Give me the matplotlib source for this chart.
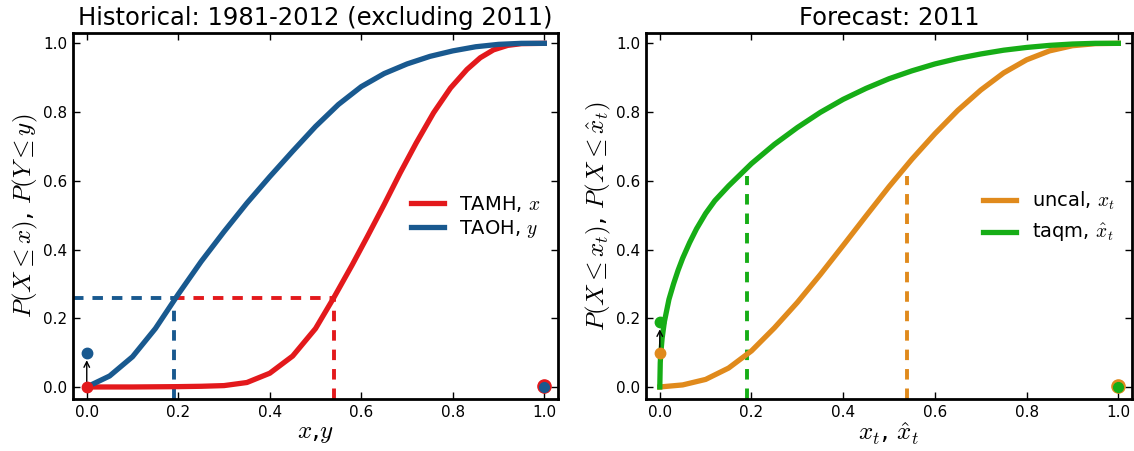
import matplotlib.pyplot as plt

plt.rcParams['mathtext.fontset'] = 'cm'
plt.rcParams['font.family'] = 'DejaVu Sans'

# values
X_GRID = [0.0, 0.05, 0.10, 0.15, 0.20, 0.25, 0.30, 0.35, 0.40, 0.45, 0.50,
          0.55, 0.60, 0.65, 0.70, 0.75, 0.80, 0.85, 0.90, 0.95, 1.0]
TAOH = [0.0, 0.032, 0.088, 0.17, 0.27, 0.365, 0.452, 0.535, 0.612, 0.686, 0.758,
        0.822, 0.874, 0.912, 0.94, 0.962, 0.978, 0.99, 0.997, 1.0, 1.0]
UNCAL = [0.0, 0.006, 0.022, 0.055, 0.105, 0.172, 0.246, 0.327, 0.412, 0.498, 0.583,
         0.663, 0.737, 0.805, 0.864, 0.914, 0.952, 0.978, 0.993, 0.999, 1.0]

X_TAMH = [0.0, 0.10, 0.20, 0.25, 0.30, 0.35, 0.40, 0.45, 0.50, 0.54, 0.58, 0.613,
          0.65, 0.685, 0.72, 0.758, 0.795, 0.831, 0.86, 0.889, 0.92, 0.95, 1.0]
TAMH = [0.0, 0.0, 0.001, 0.002, 0.004, 0.013, 0.04, 0.09, 0.17, 0.26, 0.355, 0.437,
        0.531, 0.623, 0.71, 0.798, 0.87, 0.924, 0.958, 0.981, 0.994, 0.999, 1.0]

X_TAQM = [0.0, 0.001, 0.002, 0.005, 0.01, 0.02, 0.03, 0.04, 0.05, 0.065, 0.08,
          0.10, 0.12, 0.15, 0.20, 0.25, 0.30, 0.35, 0.40, 0.45, 0.50, 0.55,
          0.60, 0.65, 0.70, 0.75, 0.80, 0.85, 0.90, 0.95, 1.0]
TAQM = [0.0, 0.07, 0.095, 0.141, 0.19, 0.255, 0.30, 0.34, 0.375, 0.42, 0.46,
        0.505, 0.542, 0.585, 0.65, 0.706, 0.755, 0.799, 0.837, 0.869, 0.897, 0.92,
        0.94, 0.956, 0.969, 0.98, 0.988, 0.994, 0.998, 1.0, 1.0]

# thresholds / point masses
HIST_P = 0.26
HIST_X, HIST_Y = 0.54, 0.19
FC_TOP = 0.615
FC_XT, FC_XHAT = 0.54, 0.19
P0_TAMH, P0_TAOH = 0.0, 0.1
P0_UNCAL, P0_TAQM = 0.1, 0.19

RED = '#e3191c'
BLUE = '#19598f'
ORANGE = '#e08a1c'
GREEN = '#16ad16'

fig = plt.figure(figsize=(11.34, 4.51), dpi=100)
ax1 = fig.add_axes([0.0644, 0.1153, 0.4277, 0.8115])
ax2 = fig.add_axes([0.5697, 0.1153, 0.4286, 0.8115])

dash = (0, (2.7, 2.3))
LW = 3.8
DLW = 2.8

for ax in (ax1, ax2):
    ax.set_xlim(-0.03, 1.03)
    ax.set_ylim(-0.035, 1.03)
    ax.set_xticks([0.0, 0.2, 0.4, 0.6, 0.8, 1.0])
    ax.set_yticks([0.0, 0.2, 0.4, 0.6, 0.8, 1.0])
    ax.tick_params(direction='in', top=True, right=True, length=5, width=1,
                   labelsize=11, pad=4)
    for s in ax.spines.values():
        s.set_linewidth(2)

# --- historical ---
ax1.plot(X_TAMH, TAMH, color=RED, lw=LW, label='TAMH, $x$', zorder=3)
ax1.plot(X_GRID, TAOH, color=BLUE, lw=LW, label='TAOH, $y$', zorder=3)
ax1.plot([-0.03, HIST_Y], [HIST_P, HIST_P], color=BLUE, lw=DLW, ls=dash)
ax1.plot([HIST_Y, HIST_X], [HIST_P, HIST_P], color=RED, lw=DLW, ls=dash)
ax1.plot([HIST_Y, HIST_Y], [-0.035, HIST_P], color=BLUE, lw=DLW, ls=dash)
ax1.plot([HIST_X, HIST_X], [-0.035, HIST_P], color=RED, lw=DLW, ls=dash)
ax1.plot([0], [P0_TAMH], 'o', color=RED, ms=7.5, mec=RED, zorder=5)
ax1.plot([0], [P0_TAOH], 'o', color=BLUE, ms=7.5, mec=BLUE, zorder=5)
ax1.annotate('', xy=(0, P0_TAOH - 0.014), xytext=(0, P0_TAMH),
             arrowprops=dict(arrowstyle='->', color='k', lw=1), zorder=4)
ax1.plot([1], [0.003], 'o', color=RED, ms=9.5, mec=RED, zorder=5, clip_on=False)
ax1.plot([1], [0.0], 'o', color=BLUE, ms=7, mec=BLUE, zorder=6, clip_on=False)
ax1.set_title('Historical: 1981-2012 (excluding 2011)', fontsize=17.5)
ax1.set_xlabel('$x$,$y$', fontsize=18, labelpad=1)
ax1.set_ylabel(r'$P(X \leq x)$, $P(Y \leq y)$', fontsize=18, labelpad=2)
ax1.legend(loc='center right', frameon=False, fontsize=14, handlelength=1.7,
           labelspacing=0.2, bbox_to_anchor=(1.0, 0.497))

# --- forecast ---
ax2.plot(X_GRID, UNCAL, color=ORANGE, lw=LW, label='uncal, $x_t$', zorder=3)
ax2.plot(X_TAQM, TAQM, color=GREEN, lw=LW, label=r'taqm, $\hat{x}_t$', zorder=3)
ax2.plot([FC_XHAT, FC_XHAT], [-0.035, FC_TOP], color=GREEN, lw=DLW, ls=dash)
ax2.plot([FC_XT, FC_XT], [-0.035, FC_TOP], color=ORANGE, lw=DLW, ls=dash)
ax2.plot([0], [P0_UNCAL], 'o', color=ORANGE, ms=7.5, mec=ORANGE, zorder=5)
ax2.plot([0], [P0_TAQM], 'o', color=GREEN, ms=7.5, mec=GREEN, zorder=5)
ax2.annotate('', xy=(0, P0_TAQM - 0.014), xytext=(0, P0_UNCAL),
             arrowprops=dict(arrowstyle='->', color='k', lw=1), zorder=4)
ax2.plot([1], [0.003], 'o', color=ORANGE, ms=9.5, mec=ORANGE, zorder=5, clip_on=False)
ax2.plot([1], [0.0], 'o', color=GREEN, ms=7, mec=GREEN, zorder=6, clip_on=False)
ax2.set_title('Forecast: 2011', fontsize=17.5)
ax2.set_xlabel(r'$x_t$, $\hat{x}_t$', fontsize=18, labelpad=1)
ax2.set_ylabel(r'$P(X \leq x_t)$, $P(X \leq \hat{x}_t)$', fontsize=18, labelpad=2)
ax2.legend(loc='center right', frameon=False, fontsize=14, handlelength=1.7,
           bbox_to_anchor=(1.0, 0.497))

fig.savefig('out.png', dpi=100)
